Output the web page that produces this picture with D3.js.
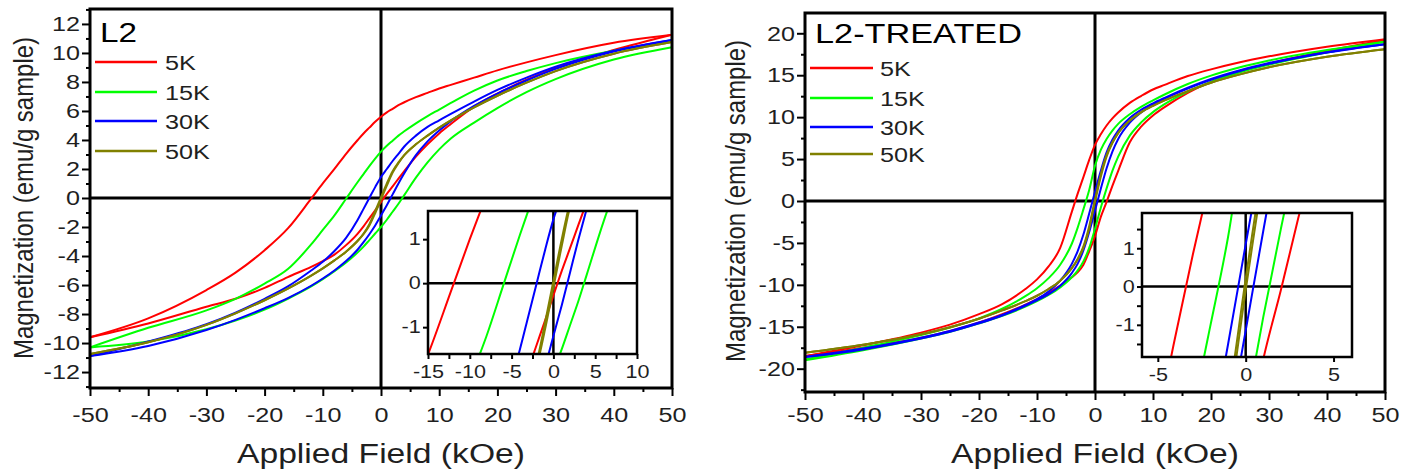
<!DOCTYPE html>
<html>
<head>
<meta charset="utf-8">
<script src="https://cdn.jsdelivr.net/npm/d3@7"></script>
<style>
  body { margin: 0; background: #fff; }
  svg { display: block; }
  text { font-family: "Liberation Sans", Arial, sans-serif; fill: #1f1f1f; }
</style>
</head>
<body>
<svg id="chart" width="1401" height="471"></svg>
<script>
// Applied field grid (kOe) shared by every magnetization branch
const fieldGrid = [-50,-40,-30,-25,-20,-16,-12,-10,-8,-6,-4,-3,-2,-1,0,1,2,3,4,6,8,10,12,16,20,25,30,40,50];

const temperatureLabels = ["5K", "15K", "30K", "50K"];
const curveColors = ["#ff0000", "#00ff00", "#0000ff", "#808000"];

// L2 — magnetization (emu/g sample); "down" = sweep from +50 to -50, "up" = sweep from -50 to +50
const l2Down5K  = [-9.6,-8.3,-6.35,-5.15,-3.6,-2.1,-0.05,1.0,2.0,3.05,4.0,4.45,4.85,5.25,5.6,5.9,6.15,6.4,6.6,6.95,7.25,7.55,7.8,8.3,8.8,9.35,9.85,10.7,11.25];
const l2Up5K    = [-9.6,-8.65,-7.5,-6.95,-6.2,-5.45,-4.75,-4.35,-3.9,-3.25,-2.45,-1.95,-1.4,-0.85,-0.28,0.28,0.8,1.33,1.85,2.85,3.7,4.45,5.1,6.3,7.2,8.15,8.95,10.2,11.25];
const l2Down15K = [-10.3,-8.95,-7.75,-6.95,-5.9,-4.9,-3.2,-2.2,-1.2,-0.05,1.1,1.65,2.2,2.72,3.2,3.6,3.95,4.3,4.6,5.15,5.65,6.1,6.55,7.4,8.1,8.75,9.3,10.15,10.8];
const l2Up15K   = [-10.3,-9.9,-9.05,-8.45,-7.7,-6.95,-6.1,-5.6,-5.05,-4.45,-3.75,-3.35,-2.9,-2.45,-2.0,-1.5,-0.95,-0.4,0.2,1.4,2.45,3.35,4.1,5.2,6.2,7.3,8.2,9.55,10.4];
const l2Down30K = [-10.9,-9.9,-8.7,-7.9,-6.95,-6.1,-5.0,-4.4,-3.65,-2.75,-1.5,-0.75,0.0,0.75,1.45,2.0,2.55,3.05,3.55,4.3,4.9,5.35,5.8,6.65,7.45,8.3,9.05,10.15,10.9];
const l2Up30K   = [-10.9,-10.2,-9.1,-8.4,-7.6,-6.9,-6.05,-5.55,-5.0,-4.35,-3.55,-3.05,-2.5,-1.9,-1.2,-0.5,0.25,1.0,1.7,2.95,3.9,4.65,5.3,6.35,7.2,8.1,8.9,10.1,10.9];
const l2Down50K = [-10.75,-9.95,-8.75,-7.95,-7.05,-6.25,-5.35,-4.85,-4.3,-3.7,-2.95,-2.45,-1.8,-0.9,0.05,1.0,1.85,2.45,2.95,3.7,4.3,4.85,5.35,6.25,7.05,7.95,8.75,9.95,10.75];
const l2Up50K   = [-10.75,-9.95,-8.75,-7.95,-7.05,-6.25,-5.35,-4.85,-4.3,-3.7,-2.95,-2.5,-1.9,-1.05,-0.1,0.85,1.75,2.4,2.95,3.7,4.3,4.85,5.35,6.25,7.05,7.95,8.75,9.95,10.75];

// L2-TREATED — magnetization (emu/g sample)
const trDown5K  = [-18.5,-17.2,-15.7,-14.75,-13.5,-12.3,-10.5,-9.35,-7.8,-5.6,-1.3,0.85,2.85,4.9,6.7,7.95,9.0,9.85,10.55,11.7,12.55,13.3,13.85,14.9,15.7,16.55,17.25,18.4,19.3];
const trUp5K    = [-18.5,-17.5,-16.3,-15.5,-14.5,-13.5,-12.35,-11.7,-10.95,-10.1,-9.1,-8.5,-7.6,-6.0,-4.2,-1.9,-0.1,1.8,3.6,7.0,8.9,10.2,11.2,12.9,14.2,15.4,16.4,17.9,19.2];
const trDown15K = [-18.9,-17.5,-16.0,-15.1,-14.0,-12.85,-11.35,-10.4,-9.2,-7.6,-5.1,-3.2,-1.0,1.3,4.2,6.1,7.4,8.4,9.2,10.35,11.25,12.0,12.7,13.95,14.95,15.95,16.75,18.0,19.0];
const trUp15K   = [-19.0,-17.8,-16.4,-15.6,-14.6,-13.7,-12.6,-11.95,-11.2,-10.3,-9.1,-8.3,-7.2,-5.6,-3.3,-0.8,1.5,3.6,5.3,7.8,9.4,10.6,11.55,13.05,14.2,15.35,16.25,17.7,19.0];
const trDown30K = [-18.6,-17.6,-16.3,-15.5,-14.5,-13.6,-12.4,-11.7,-10.8,-9.5,-7.5,-6.0,-4.0,-1.5,1.1,3.6,5.8,7.3,8.4,9.9,10.9,11.65,12.3,13.5,14.55,15.6,16.45,17.75,18.7];
const trUp30K   = [-18.6,-17.7,-16.4,-15.6,-14.6,-13.65,-12.5,-11.85,-11.1,-10.1,-8.6,-7.5,-5.9,-3.7,-1.15,1.45,3.9,5.9,7.4,9.35,10.6,11.5,12.2,13.4,14.45,15.5,16.35,17.7,18.7];
const trDown50K = [-18.1,-17.15,-15.9,-15.05,-14.05,-13.05,-11.95,-11.3,-10.5,-9.5,-8.0,-6.9,-5.4,-3.0,0.2,3.2,5.5,7.0,8.1,9.6,10.6,11.35,12.0,13.1,14.1,15.1,15.95,17.2,18.1];
const trUp50K   = [-18.1,-17.15,-15.9,-15.05,-14.05,-13.05,-11.95,-11.3,-10.5,-9.5,-8.0,-7.0,-5.6,-3.3,-0.1,2.9,5.3,6.9,8.1,9.6,10.6,11.35,12.0,13.1,14.1,15.1,15.95,17.2,18.1];

// Tick values
const fieldTicks = [-50,-40,-30,-20,-10,0,10,20,30,40,50];
const fieldMinorTicks = [-45,-35,-25,-15,-5,5,15,25,35,45];
const l2MagTicks = [-12,-10,-8,-6,-4,-2,0,2,4,6,8,10,12];
const l2MagMinorTicks = [-13,-11,-9,-7,-5,-3,-1,1,3,5,7,9,11,13];
const trMagTicks = [-20,-15,-10,-5,0,5,10,15,20];
const trMagMinorTicks = [-22.5,-17.5,-12.5,-7.5,-2.5,2.5,7.5,12.5,17.5,22.5];
const l2InsetFieldTicks = [-15,-10,-5,0,5,10];
const l2InsetFieldMinorTicks = [-12.5,-7.5,-2.5,2.5,7.5];
const trInsetFieldTicks = [-5,0,5];
const insetMagTicks = [-1,0,1];
const trInsetMagMinorTicks = [-1.5,-0.5,0.5,1.5];

const fieldTitle = "Applied Field (kOe)";
const magTitle = "Magnetization (emu/g sample)";

const svg = d3.select("#chart");
const STRETCH = 1.2;
const FONT = 21;
const plainNumber = d => String(d);   // ASCII hyphen for negatives

function stretchedText(parent, str, x, y, size, anchor) {
  return parent.append("text")
    .attr("transform", `translate(${x},${y}) scale(${STRETCH},1)`)
    .attr("text-anchor", anchor || "start")
    .style("font-size", size + "px")
    .text(str);
}

function branches(down, up) {
  return [down, up].map(vals => fieldGrid.map((h, i) => [h, vals[i]]));
}

const panels = [
  {
    id: "l2", title: "L2",
    box: { x0: 90, x1: 672, y0: 9, y1: 388 },
    yDomain: [-13.1, 13.03],
    yTicks: l2MagTicks, yMinor: l2MagMinorTicks,
    series: [branches(l2Down5K, l2Up5K), branches(l2Down15K, l2Up15K), branches(l2Down30K, l2Up30K), branches(l2Down50K, l2Up50K)],
    legend: { x0: 95, x1: 157, tx: 165, ys: [62, 92, 121, 151], titleX: 100, titleY: 42, titleW: 37 },
    yTitleX: 33,
    inset: {
      box: { x0: 428, x1: 637, y0: 211, y1: 354 },
      xDomain: [-15, 10], yDomain: [-1.61, 1.64],
      xTicks: l2InsetFieldTicks, xMinor: l2InsetFieldMinorTicks, yMinor: []
    }
  },
  {
    id: "tr", title: "L2-TREATED",
    box: { x0: 805, x1: 1385, y0: 13, y1: 392 },
    yDomain: [-22.78, 22.42],
    yTicks: trMagTicks, yMinor: trMagMinorTicks,
    series: [branches(trDown5K, trUp5K), branches(trDown15K, trUp15K), branches(trDown30K, trUp30K), branches(trDown50K, trUp50K)],
    legend: { x0: 810, x1: 873, tx: 880, ys: [68, 98, 127, 154], titleX: 815, titleY: 43, titleW: 207 },
    yTitleX: 745,
    inset: {
      box: { x0: 1142, x1: 1352, y0: 213, y1: 357 },
      xDomain: [-5.9, 6.05], yDomain: [-1.84, 1.92],
      xTicks: trInsetFieldTicks, xMinor: [], yMinor: trInsetMagMinorTicks
    }
  }
];

function styleAxis(g, width) {
  g.select(".domain").remove();
  g.selectAll(".tick line").attr("stroke", "#000").attr("stroke-width", width);
}

panels.forEach(p => {
  const b = p.box;
  const g = svg.append("g").attr("class", "panel-" + p.id);
  const x = d3.scaleLinear().domain([-50, 50]).range([b.x0, b.x1]);
  const y = d3.scaleLinear().domain(p.yDomain).range([b.y1, b.y0]);

  // x axis: major + minor ticks
  const xAxisG = g.append("g").attr("transform", `translate(0,${b.y1})`)
    .call(d3.axisBottom(x).tickValues(fieldTicks).tickSize(8).tickPadding(422 - b.y1 - 8 - 15).tickFormat(plainNumber));
  styleAxis(xAxisG, 2);
  xAxisG.selectAll(".tick text")
    .style("font-size", FONT + "px")
    .attr("transform", `scale(${STRETCH},1)`);
  const xMinorG = g.append("g").attr("transform", `translate(0,${b.y1})`)
    .call(d3.axisBottom(x).tickValues(fieldMinorTicks).tickSize(4).tickFormat(""));
  styleAxis(xMinorG, 2);

  // y axis: major + minor ticks
  const yAxisG = g.append("g").attr("transform", `translate(${b.x0},0)`)
    .call(d3.axisLeft(y).tickValues(p.yTicks).tickSize(8).tickPadding(0.4).tickFormat(plainNumber));
  styleAxis(yAxisG, 2);
  yAxisG.selectAll(".tick text")
    .style("font-size", FONT + "px")
    .attr("transform", `scale(${STRETCH},1)`);
  const yMinorG = g.append("g").attr("transform", `translate(${b.x0},0)`)
    .call(d3.axisLeft(y).tickValues(p.yMinor.filter(v => v >= p.yDomain[0] && v <= p.yDomain[1])).tickSize(4).tickFormat(""));
  styleAxis(yMinorG, 2);

  // zero lines
  g.append("line").attr("x1", b.x0).attr("x2", b.x1).attr("y1", y(0)).attr("y2", y(0))
    .attr("stroke", "#000").attr("stroke-width", 3);
  g.append("line").attr("x1", x(0)).attr("x2", x(0)).attr("y1", b.y0).attr("y2", b.y1)
    .attr("stroke", "#000").attr("stroke-width", 3);

  // hysteresis branches
  const line = d3.line().x(d => x(d[0])).y(d => y(d[1])).curve(d3.curveMonotoneX);
  p.series.forEach((pair, si) => {
    pair.forEach(branch => {
      g.append("path").datum(branch).attr("d", line)
        .attr("fill", "none").attr("stroke", curveColors[si]).attr("stroke-width", 2);
    });
  });

  // frame
  g.append("rect").attr("x", b.x0).attr("y", b.y0).attr("width", b.x1 - b.x0).attr("height", b.y1 - b.y0)
    .attr("fill", "none").attr("stroke", "#000").attr("stroke-width", 3);

  // title and legend
  g.append("text").attr("x", p.legend.titleX).attr("y", p.legend.titleY)
    .style("font-size", "27px").style("fill", "#000")
    .attr("textLength", p.legend.titleW).attr("lengthAdjust", "spacingAndGlyphs")
    .text(p.title);
  temperatureLabels.forEach((lab, i) => {
    const ly = p.legend.ys[i];
    g.append("line").attr("x1", p.legend.x0).attr("x2", p.legend.x1).attr("y1", ly).attr("y2", ly)
      .attr("stroke", curveColors[i]).attr("stroke-width", 2.5);
    stretchedText(g, lab, p.legend.tx, ly + 8, FONT, "start");
  });

  // axis titles
  g.append("text").attr("x", x(0)).attr("y", 463).attr("text-anchor", "middle")
    .style("font-size", "27px").attr("textLength", 288).attr("lengthAdjust", "spacingAndGlyphs")
    .text(fieldTitle);
  g.append("text").attr("transform", `translate(${p.yTitleX},${y(0)}) rotate(-90) scale(1,${STRETCH})`)
    .attr("text-anchor", "middle").style("font-size", "23px")
    .attr("textLength", 322).attr("lengthAdjust", "spacingAndGlyphs")
    .text(magTitle);

  // inset: zoom on the coercive region
  const ins = p.inset, ib = ins.box;
  const ig = g.append("g").attr("class", "inset");
  const ix = d3.scaleLinear().domain(ins.xDomain).range([ib.x0, ib.x1]);
  const iy = d3.scaleLinear().domain(ins.yDomain).range([ib.y1, ib.y0]);
  const clipId = "clip-" + p.id;
  svg.append("defs").append("clipPath").attr("id", clipId)
    .append("rect").attr("x", ib.x0).attr("y", ib.y0).attr("width", ib.x1 - ib.x0).attr("height", ib.y1 - ib.y0);
  ig.append("rect").attr("x", ib.x0).attr("y", ib.y0).attr("width", ib.x1 - ib.x0).attr("height", ib.y1 - ib.y0)
    .attr("fill", "#fff");

  const ixAxis = ig.append("g").attr("transform", `translate(0,${ib.y1})`)
    .call(d3.axisBottom(ix).tickValues(ins.xTicks).tickSize(5).tickPadding(6).tickFormat(plainNumber));
  styleAxis(ixAxis, 2);
  ixAxis.selectAll(".tick text").style("font-size", "18px").attr("transform", `scale(${STRETCH},1)`);
  if (ins.xMinor.length) {
    const ixMinor = ig.append("g").attr("transform", `translate(0,${ib.y1})`)
      .call(d3.axisBottom(ix).tickValues(ins.xMinor).tickSize(5).tickFormat(""));
    styleAxis(ixMinor, 2);
  }
  const iyAxis = ig.append("g").attr("transform", `translate(${ib.x0},0)`)
    .call(d3.axisLeft(iy).tickValues(insetMagTicks).tickSize(5).tickPadding(1).tickFormat(plainNumber));
  styleAxis(iyAxis, 2);
  iyAxis.selectAll(".tick text").style("font-size", "18px").attr("transform", `scale(${STRETCH},1)`);
  if (ins.yMinor.length) {
    const iyMinor = ig.append("g").attr("transform", `translate(${ib.x0},0)`)
      .call(d3.axisLeft(iy).tickValues(ins.yMinor).tickSize(5).tickFormat(""));
    styleAxis(iyMinor, 2);
  }

  ig.append("line").attr("x1", ib.x0).attr("x2", ib.x1).attr("y1", iy(0)).attr("y2", iy(0))
    .attr("stroke", "#000").attr("stroke-width", 2.5);
  ig.append("line").attr("x1", ix(0)).attr("x2", ix(0)).attr("y1", ib.y0).attr("y2", ib.y1)
    .attr("stroke", "#000").attr("stroke-width", 2.5);

  const iline = d3.line().x(d => ix(d[0])).y(d => iy(d[1])).curve(d3.curveMonotoneX);
  const curvesG = ig.append("g").attr("clip-path", `url(#${clipId})`);
  p.series.forEach((pair, si) => {
    pair.forEach(branch => {
      curvesG.append("path").datum(branch).attr("d", iline)
        .attr("fill", "none").attr("stroke", curveColors[si]).attr("stroke-width", 2);
    });
  });

  ig.append("rect").attr("x", ib.x0).attr("y", ib.y0).attr("width", ib.x1 - ib.x0).attr("height", ib.y1 - ib.y0)
    .attr("fill", "none").attr("stroke", "#000").attr("stroke-width", 2.5);
});
</script>
</body>
</html>
